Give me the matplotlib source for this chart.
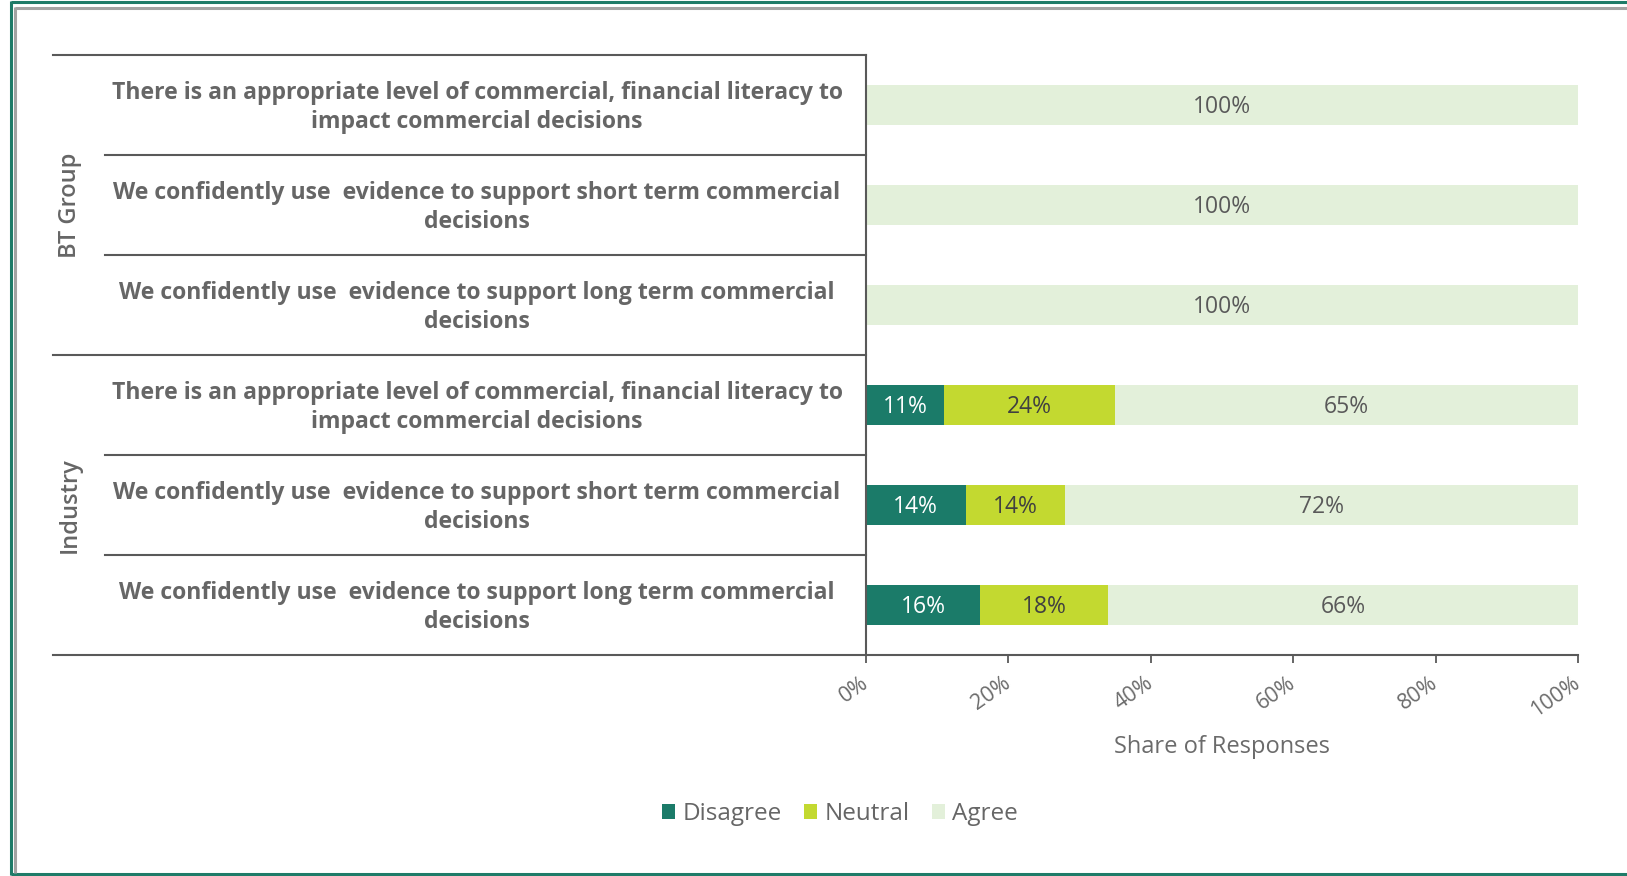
import matplotlib
matplotlib.use("Agg")
import matplotlib.pyplot as plt
from matplotlib.lines import Line2D
import numpy as np

plt.rcParams['font.family'] = ['Open Sans', 'DejaVu Sans']

groups = ["BT Group", "Industry"]
questions = [
    "There is an appropriate level of commercial, financial literacy to\nimpact commercial decisions",
    "We confidently use  evidence to support short term commercial\ndecisions",
    "We confidently use  evidence to support long term commercial\ndecisions",
    "There is an appropriate level of commercial, financial literacy to\nimpact commercial decisions",
    "We confidently use  evidence to support short term commercial\ndecisions",
    "We confidently use  evidence to support long term commercial\ndecisions",
]
disagree = [0, 0, 0, 11, 14, 16]
neutral = [0, 0, 0, 24, 14, 18]
agree = [100, 100, 100, 65, 72, 66]
series_names = ["Disagree", "Neutral", "Agree"]
xticks = [0, 20, 40, 60, 80, 100]
xticklabels = ["0%", "20%", "40%", "60%", "80%", "100%"]
xlabel = "Share of Responses"

colors = ["#1b7b69", "#c3d930", "#e3f0da"]
text_colors = ["white", "#404040", "#595959"]
line_c = "#595959"
txt_c = "#6b6b6b"

W, H = 1627, 876
fig = plt.figure(figsize=(W / 100, H / 100), dpi=100)

ax_l, ax_r, ax_t, ax_b = 866, 1578, 55, 655
ax = fig.add_axes([ax_l / W, 1 - ax_b / H, (ax_r - ax_l) / W, (ax_b - ax_t) / H])

n = len(questions)
y = np.arange(n)
left = np.zeros(n)
for vals, col, tc, name in zip([disagree, neutral, agree], colors, text_colors, series_names):
    vals = np.array(vals, dtype=float)
    ax.barh(y, vals, left=left, height=0.4, color=col, label=name)
    for yi, v, l in zip(y, vals, left):
        if v > 0:
            ax.text(l + v / 2, yi + 0.02, f"{int(v)}%", ha="center", va="center",
                    color=tc, fontsize=16.5)
    left += vals

ax.set_xlim(0, 100)
ax.set_ylim(n - 0.5, -0.5)
ax.set_yticks([])
ax.set_xticks(xticks)
ax.set_xticklabels(xticklabels, rotation=35, ha="right", va="center",
                   rotation_mode="anchor", color=txt_c, fontsize=15.5)
ax.tick_params(axis="x", length=6, width=1.3, color=line_c, pad=13)
for s in ["top", "right"]:
    ax.spines[s].set_visible(False)
ax.spines["left"].set_color(line_c)
ax.spines["left"].set_linewidth(1.5)
ax.spines["bottom"].set_visible(False)
ax.set_xlabel(xlabel, fontsize=17, color=txt_c, labelpad=10)

# left label area lines (axes x fraction, data y)
x_outer = (53 - ax_l) / (ax_r - ax_l)
x_inner = (105 - ax_l) / (ax_r - ax_l)
tr = ax.get_yaxis_transform()
ax.add_line(Line2D([x_outer, 0], [-0.5, -0.5], transform=tr, color=line_c, lw=1.5, clip_on=False))
ax.add_line(Line2D([x_outer, 1], [n - 0.5, n - 0.5], transform=tr, color=line_c, lw=1.5, clip_on=False))
for b in [0.5, 1.5, 3.5, 4.5]:
    ax.add_line(Line2D([x_inner, 0], [b, b], transform=tr, color=line_c, lw=1.5, clip_on=False))
ax.add_line(Line2D([x_outer, 0], [2.5, 2.5], transform=tr, color=line_c, lw=1.5, clip_on=False))

x_text = (477 - ax_l) / (ax_r - ax_l)
for yi, q in zip(y, questions):
    ax.text(x_text, yi + 0.025, q, transform=tr, ha="center", va="center", fontsize=16.6,
            fontweight="bold", color="#666666", linespacing=1.25, multialignment="center")

x_grp = (70 - ax_l) / (ax_r - ax_l)
for gi, g in enumerate(groups):
    ax.text(x_grp, 1 + 3 * gi, g, transform=tr, ha="center", va="center", rotation=90,
            fontsize=17, color="#666666", fontweight="semibold")

leg = fig.legend(loc="center", bbox_to_anchor=(840 / W, 1 - 814 / H), ncol=3, frameon=False,
                 fontsize=17.5, handlelength=0.55, handleheight=0.55, handletextpad=0.3,
                 columnspacing=0.9)
for t in leg.get_texts():
    t.set_color("#666666")

# border
green = "#1e7b68"
grey = "#a3a3a3"
def fl(xs, ys, c, lw):
    fig.add_artist(Line2D([x / W for x in xs], [1 - yy / H for yy in ys], color=c, lw=lw,
                          transform=fig.transFigure, solid_capstyle="butt"))
fl([11, W], [2, 2], green, 2.2)
fl([11, 11], [1, 875], green, 2.2)
fl([11, W], [874, 874], green, 2.2)
fl([15.5, W], [7.5, 7.5], grey, 2.2)
fl([15.5, 15.5], [7, 873], grey, 2.2)

fig.savefig("out.png", dpi=100)
